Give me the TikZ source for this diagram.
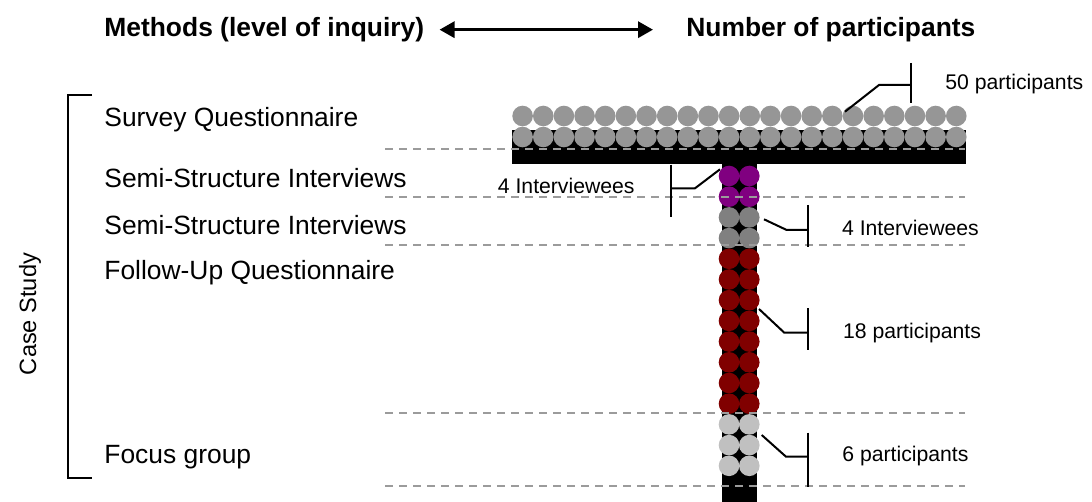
\documentclass[tikz,border=0pt]{standalone}
\usepackage{fontspec}
\setmainfont{Liberation Sans}
\usetikzlibrary{arrows.meta, positioning}

\definecolor{dotgrey}{RGB}{150,150,150}
\definecolor{dotpurple}{RGB}{128,0,128}
\definecolor{dotmid}{RGB}{128,128,128}
\definecolor{dotred}{RGB}{128,0,0}
\definecolor{dotlight}{RGB}{192,192,192}
\definecolor{rulegrey}{RGB}{155,155,155}

\begin{document}
\begin{tikzpicture}[
    x=0.5pt, y=-0.5pt,
    method/.style={
        anchor=base west,
        inner sep=0pt,
        font=\fontsize{13.2}{15}\selectfont
    },
    header/.style={
        anchor=base west,
        inner sep=0pt,
        font=\fontsize{13.2}{15}\selectfont\bfseries
    },
    count/.style={
        anchor=base west,
        inner sep=0pt,
        font=\fontsize{10.6}{13}\selectfont
    },
    leader/.style={
        line width=1pt
    },
    level/.style={
        dash pattern=on 3.75pt off 3.25pt,
        line width=1pt,
        draw=rulegrey
    },
    twoway/.style={
        {Triangle[length=7.5pt, width=8pt]}-{Triangle[length=7.5pt, width=8pt]},
        line width=1.6pt
    }
]
\useasboundingbox (0,0) rectangle (1092,502);

% Header
\node[header] (methods) at (104,36.5) {Methods (level of inquiry)};
\node[header] (number) at (686,36.5) {Number of participants};
\draw[twoway] ([xshift=7.5pt]methods.east) -- ([xshift=-16.5pt]number.west);

% Methods
\node[method] (survey) at (104,126.5) {Survey Questionnaire};
\node[method] (semione) at (104,187.5) {Semi-Structure Interviews};
\node[method] (semitwo) at (104,234.5) {Semi-Structure Interviews};
\node[method] (followup) at (104,279.5) {Follow-Up Questionnaire};
\node[method] (focus) at (104,463.5) {Focus group};

% Case study bracket
\node[rotate=90, inner sep=0pt, font=\fontsize{11.8}{14}\selectfont] (case) at (30,314) {Case Study};
\draw[leader] (92,95) -- (68,95) -- (68,478) -- (92,478);

% The T of participants
\fill (512,130) rectangle (966,164);
\fill (722,164) rectangle (757,502);
\foreach \i in {0,...,21} {
    \fill[dotgrey] ({522.6+20.65*\i},116) circle[radius=5.15pt];
    \fill[dotgrey] ({522.6+20.65*\i},137) circle[radius=5.15pt];
}
\foreach \r/\c in {0/dotpurple,1/dotpurple,2/dotmid,3/dotmid,
    4/dotred,5/dotred,6/dotred,7/dotred,8/dotred,9/dotred,10/dotred,11/dotred,
    12/dotlight,13/dotlight,14/dotlight} {
    \fill[\c] (729,{176+20.7*\r}) circle[radius=5.15pt];
    \fill[\c] (749.3,{176+20.7*\r}) circle[radius=5.15pt];
}

% Level lines
\foreach \y in {149,197,245,413,486}
    \draw[level] (385,\y) -- (965,\y);

% Counts
\node[count] (fifty) at (945,89.7) {50 participants};
\node[count, anchor=base east] (interone) at (635,193.7) {4 Interviewees};
\node[count] (intertwo) at (841.7,236) {4 Interviewees};
\node[count] (eighteen) at (842.7,338.4) {18 participants};
\node[count] (six) at (842,461.7) {6 participants};

% Leaders
\coordinate (fiftytip) at (845,111.7);
\coordinate (fiftyknee) at (879,85);
\coordinate (fiftybar) at (911,85);
\draw[leader] (fiftytip) -- (fiftyknee) -- (fiftybar);
\draw[leader] ([yshift=11pt]fiftybar) -- ([yshift=-9pt]fiftybar);

\coordinate (interonetip) at (720,169.3);
\coordinate (interoneknee) at (695,188.3);
\coordinate (interonebar) at (670.7,188.3);
\draw[leader] (interonetip) -- (interoneknee) -- (interonebar);
\draw[leader] ([yshift=11.8pt]interonebar) -- ([yshift=-14.2pt]interonebar);

\coordinate (intertwotip) at (764,219.3);
\coordinate (intertwoknee) at (786.7,230);
\coordinate (intertwobar) at (807.7,230);
\draw[leader] (intertwotip) -- (intertwoknee) -- (intertwobar);
\draw[leader] ([yshift=12.5pt]intertwobar) -- ([yshift=-8.7pt]intertwobar);

\coordinate (eighteentip) at (759,309);
\coordinate (eighteenknee) at (784.3,332.7);
\coordinate (eighteenbar) at (807.7,332.7);
\draw[leader] (eighteentip) -- (eighteenknee) -- (eighteenbar);
\draw[leader] ([yshift=12.2pt]eighteenbar) -- ([yshift=-8.7pt]eighteenbar);

\coordinate (sixtip) at (761.7,435);
\coordinate (sixknee) at (786,456.7);
\coordinate (sixbar) at (807.7,456.7);
\draw[leader] (sixtip) -- (sixknee) -- (sixbar);
\draw[leader] ([yshift=12pt]sixbar) -- ([yshift=-15.3pt]sixbar);

\end{tikzpicture}
\end{document}
